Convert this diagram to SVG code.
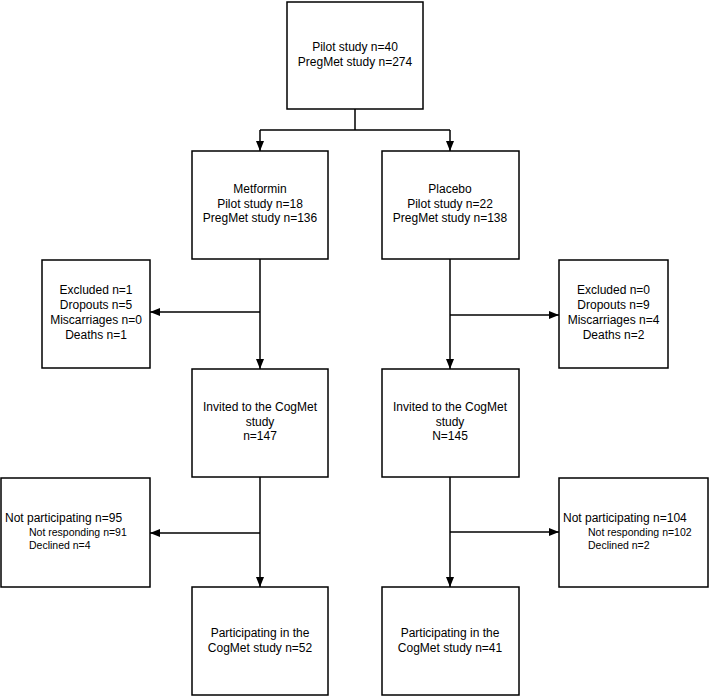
<svg xmlns="http://www.w3.org/2000/svg" width="710" height="697" viewBox="0 0 710 697">
<style>
.box{fill:#fff;stroke:#000;stroke-width:1.5}
.t{font-family:"Liberation Sans",Arial,sans-serif;font-size:12px;fill:#000;text-anchor:middle}
.s{font-family:"Liberation Sans",Arial,sans-serif;font-size:10.5px;fill:#000}
.l{font-family:"Liberation Sans",Arial,sans-serif;font-size:12px;fill:#000}
.c{fill:none;stroke:#000;stroke-width:1.5}
</style>
<defs>
<marker id="ah" viewBox="0 0 10 8" refX="10" refY="4" markerWidth="10" markerHeight="8" markerUnits="userSpaceOnUse" orient="auto">
<path d="M0,0 L10,4 L0,8 Z" fill="#000"/>
</marker>
</defs>
<rect width="710" height="697" fill="#fff"/>
<g id="connectors">
<path class="c" d="M355,109 V130 M260,130 H450"/>
<path class="c" d="M260,130 V151" marker-end="url(#ah)"/>
<path class="c" d="M450,130 V151" marker-end="url(#ah)"/>
<path class="c" d="M260,259 V369" marker-end="url(#ah)"/>
<path class="c" d="M450,259 V369" marker-end="url(#ah)"/>
<path class="c" d="M260,312 H150" marker-end="url(#ah)"/>
<path class="c" d="M450,315 H559" marker-end="url(#ah)"/>
<path class="c" d="M260,477 V587" marker-end="url(#ah)"/>
<path class="c" d="M450,477 V587" marker-end="url(#ah)"/>
<path class="c" d="M260,533 H150" marker-end="url(#ah)"/>
<path class="c" d="M450,532 H559" marker-end="url(#ah)"/>
</g>
<g id="n-top">
<rect class="box" x="287" y="2" width="136" height="107"/>
<text class="t" x="355" y="51.3">Pilot study n=40</text>
<text class="t" x="355" y="66">PregMet study n=274</text>
</g>
<g id="n-metformin">
<rect class="box" x="192" y="151" width="136" height="108"/>
<text class="t" x="260" y="193.3">Metformin</text>
<text class="t" x="260" y="207.8">Pilot study n=18</text>
<text class="t" x="260" y="222.3">PregMet study n=136</text>
</g>
<g id="n-placebo">
<rect class="box" x="382" y="151" width="137" height="108"/>
<text class="t" x="450" y="193.3">Placebo</text>
<text class="t" x="450" y="207.8">Pilot study n=22</text>
<text class="t" x="450" y="222.3">PregMet study n=138</text>
</g>
<g id="n-excl-left">
<rect class="box" x="42" y="260" width="108" height="108"/>
<text class="t" x="96" y="294.3">Excluded n=1</text>
<text class="t" x="96" y="309.3">Dropouts n=5</text>
<text class="t" x="96" y="323.8">Miscarriages n=0</text>
<text class="t" x="96" y="338.8">Deaths n=1</text>
</g>
<g id="n-excl-right">
<rect class="box" x="559" y="260" width="109" height="108"/>
<text class="t" x="613.5" y="294.3">Excluded n=0</text>
<text class="t" x="613.5" y="309.3">Dropouts n=9</text>
<text class="t" x="613.5" y="323.8">Miscarriages n=4</text>
<text class="t" x="613.5" y="338.8">Deaths n=2</text>
</g>
<g id="n-invited-left">
<rect class="box" x="192" y="369" width="136" height="108"/>
<text class="t" x="260" y="411.3">Invited to the CogMet</text>
<text class="t" x="260" y="425.8">study</text>
<text class="t" x="260" y="440.3">n=147</text>
</g>
<g id="n-invited-right">
<rect class="box" x="382" y="369" width="137" height="108"/>
<text class="t" x="450" y="411.3">Invited to the CogMet</text>
<text class="t" x="450" y="425.8">study</text>
<text class="t" x="450" y="440.3">N=145</text>
</g>
<g id="n-notpart-left">
<rect class="box" x="1" y="478" width="149" height="109"/>
<text class="l" x="5" y="522.3">Not participating n=95</text>
<text class="s" x="29" y="535.8">Not responding n=91</text>
<text class="s" x="29" y="548.8">Declined n=4</text>
</g>
<g id="n-notpart-right">
<rect class="box" x="559" y="478" width="149" height="109"/>
<text class="l" x="563" y="522.3">Not participating n=104</text>
<text class="s" x="588" y="535.8">Not responding n=102</text>
<text class="s" x="588" y="548.8">Declined n=2</text>
</g>
<g id="n-part-left">
<rect class="box" x="192" y="587" width="136" height="108"/>
<text class="t" x="260" y="637.3">Participating in the</text>
<text class="t" x="260" y="651.8">CogMet study n=52</text>
</g>
<g id="n-part-right">
<rect class="box" x="382" y="587" width="137" height="108"/>
<text class="t" x="450" y="637.3">Participating in the</text>
<text class="t" x="450" y="651.8">CogMet study n=41</text>
</g>
</svg>
